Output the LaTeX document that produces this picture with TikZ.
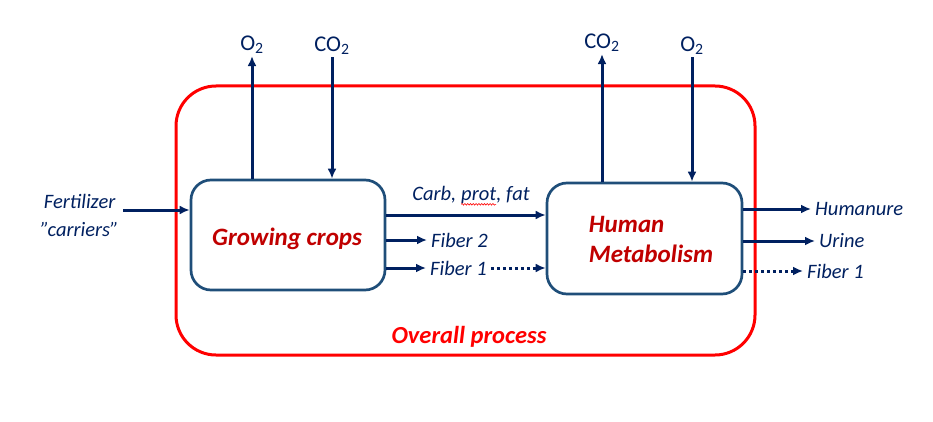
\documentclass[tikz,border=0pt]{standalone}
\usepackage{fontspec}
\setmainfont{Carlito}
\usetikzlibrary{arrows.meta,decorations.pathmorphing}
\definecolor{navy}{HTML}{002060}
\definecolor{boxblue}{HTML}{1F4E79}
\definecolor{darkred}{HTML}{C00000}
\newcommand\spellwave[1]{\tikz[baseline=(w.base)]{\node[inner sep=0pt,outer sep=0pt] (w) {#1};
  \draw[red,line width=0.6pt,decorate,decoration={snake,amplitude=0.8pt,segment length=2.8pt}]
    ([yshift=-3.5pt]w.base west) -- ([yshift=-3.5pt]w.base east);}}

\begin{document}
\begin{tikzpicture}[x=1pt,y=-1pt,
  box/.style={draw=boxblue,line width=2.7pt,rounded corners=20pt,
    minimum width=194pt,minimum height=110pt},
  boxtext/.style={text=darkred,align=left,font=\fontsize{25}{30}\selectfont\bfseries\itshape},
  flow/.style={navy,line width=3pt,-{Latex[length=10pt,width=9pt]}},
  dots/.style={flow,dash pattern=on 3pt off 3pt},
  lbl/.style={text=navy,inner sep=4pt,font=\fontsize{20.5}{28}\selectfont\itshape},
  gas/.style={text=navy,inner sep=2pt,font=\fontsize{22.5}{24}\selectfont}]
  \useasboundingbox (0,0) rectangle (933,422);
  % overall process frame
  \node[draw=red,line width=3pt,rounded corners=40pt,
    minimum width=579pt,minimum height=269pt] (overall) at (465.5,220.5) {};
  \node[text=red,font=\fontsize{24.5}{26}\selectfont\bfseries\itshape] (overlbl) at (469,337) {Overall process};
  % the two processes
  \node[box] (growing) at (288,235) {};
  \node[boxtext] (growinglbl) at (287,239) {Growing crops};
  \node[box,minimum width=195pt,minimum height=111pt] (human) at (644.5,238.5) {};
  \node[boxtext] (humanlbl) at (651,239) {Human\\Metabolism};
  % gases
  \node[gas] (o2a) at (252,45) {O\textsubscript{2}};
  \node[gas] (co2a) at (332,46) {CO\textsubscript{2}};
  \node[gas] (co2b) at (602,43) {CO\textsubscript{2}};
  \node[gas] (o2b) at (692,46) {O\textsubscript{2}};
  \draw[flow] (growing.north -| o2a) -- (o2a.south);
  \draw[flow] (co2a.south) -- (growing.north -| co2a);
  \draw[flow] (human.north -| co2b) -- (co2b.south);
  \draw[flow] (o2b.south) -- (human.north -| o2b);
  % inputs
  \node[lbl,align=center,anchor=east] (fert) at (123,215) {Fertilizer\\”carriers”};
  \path ([yshift=5pt]fert.east) coordinate (fertout);
  \draw[flow] (fertout) -- (fertout -| growing.west);
  % crops to humans
  \node[lbl] (carb) at (471,196) {Carb, \spellwave{prot}, fat};
  \node[lbl,anchor=west] (fib2) at (427,240) {Fiber 2};
  \node[lbl,anchor=west] (fib1a) at (426,268) {Fiber 1};
  \draw[flow] (growing.east |- 0,215) -- (human.west |- 0,215);
  \draw[flow] (growing.east |- fib2) -- (fib2.west);
  \draw[flow] (growing.east |- fib1a) -- (fib1a.west);
  \draw[dots] (fib1a.east) -- (human.west |- fib1a);
  % outputs
  \node[lbl,anchor=west] (hum) at (811,209) {Humanure};
  \node[lbl,anchor=west] (urine) at (815,241) {Urine};
  \node[lbl,anchor=west] (fib1b) at (803,271) {Fiber 1};
  \draw[flow] (human.east |- hum) -- (hum.west);
  \draw[flow] (human.east |- urine) -- (urine.west);
  \draw[dots] (human.east |- fib1b) -- (fib1b.west);
\end{tikzpicture}
\end{document}
